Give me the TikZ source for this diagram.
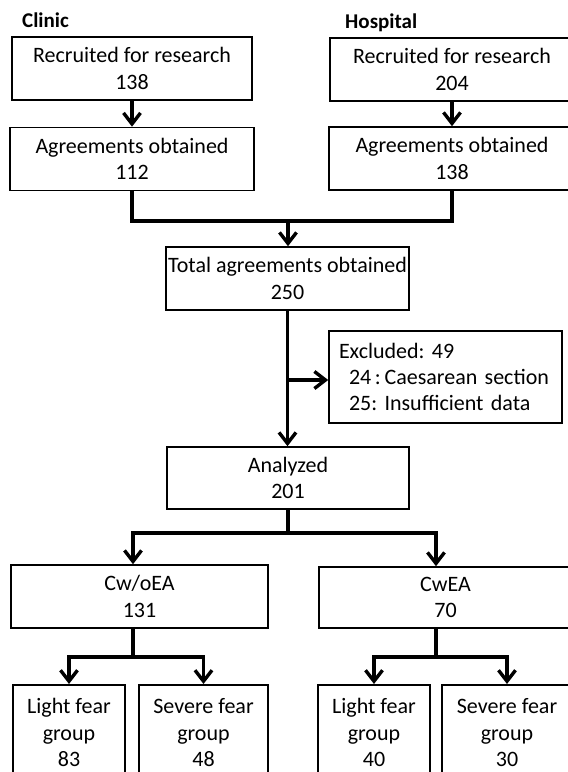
\documentclass[tikz,border=0pt]{standalone}
\usepackage{fontspec}
\setmainfont{Carlito}
\frenchspacing
\usetikzlibrary{arrows.meta}
\tikzset{
    %Define standard arrow tip
    >={Straight Barb[length=11pt,width=17pt]},
    %Define style for boxes
    boks/.style={
           rectangle,
           draw=black,
           line width=1.6pt,
           inner sep=0pt,
           align=center,
           minimum height=63pt,
           font=\fontsize{22}{26.4}\selectfont},
    % Define connector styles
    strek/.style={
           line width=3.4pt},
    pil/.style={
           ->,
           line width=3.4pt},
    % Define style for the site labels
    etikett/.style={
           anchor=base west,
           inner sep=0pt,
           font=\bfseries\fontsize{21}{25}\selectfont}
}

\begin{document}
\begin{tikzpicture}[x=1pt,y=-1pt]
  \clip (0,0) rectangle (568,772);
  % site labels
  \node[etikett] (clinic) at (22,27) {Clinic};
  \node[etikett] (hospital) at (345,28) {Hospital};
  % recruitment
  \node[boks,minimum width=240pt] (rec1) at (132,68.5) {Recruited for research\\138};
  \node[boks,minimum width=244pt] (agr1) at (132,159) {Agreements obtained\\112};
  \node[boks,minimum width=244pt] (rec2) at (452,69.5) {Recruited for research\\204};
  \node[boks,minimum width=246pt] (agr2) at (452,158.5) {Agreements obtained\\138};
  \node[boks,minimum width=243pt] (total) at (287.5,278.5) {Total agreements obtained\\250};
  \node[boks,minimum width=233pt,minimum height=92pt,text width=213pt,align=left] (excl) at (445.5,377)
    {Excluded: 49\\\hspace*{10pt}24\,:\,Caesarean section\\\hspace*{10pt}25: Insufficient data};
  \node[boks,minimum width=242pt,minimum height=62pt] (anal) at (288,478) {Analyzed\\201};
  % groups
  \node[boks,minimum width=257pt] (cwo) at (139.5,596.5) {Cw/oEA\\131};
  \node[boks,minimum width=253pt,minimum height=61pt] (cw) at (445.5,597.5) {CwEA\\70};
  \node[boks,anchor=north,minimum width=112pt,minimum height=96pt] (lf1) at (69,684) {Light fear\\group\\83};
  \node[boks,anchor=north,minimum width=129pt,minimum height=96pt] (sf1) at (203.5,684) {Severe fear\\group\\48};
  \node[boks,anchor=north,minimum width=112pt,minimum height=96pt] (lf2) at (374,684) {Light fear\\group\\40};
  \node[boks,anchor=north,minimum width=130pt,minimum height=96pt] (sf2) at (507,684) {Severe fear\\group\\30};
  % branch points
  \coordinate (j1) at (288,221);
  \coordinate (b1) at (288,533);
  \coordinate (b2) at (133,657);
  \coordinate (b3) at (436,657);
  % connectors
  \draw[pil] (rec1) -- (agr1);
  \draw[pil] (rec2) -- (agr2);
  \draw[strek] (agr1.south) |- (j1);
  \draw[strek] (agr2.south) |- (j1);
  \draw[pil] (j1) -- (j1 |- total.north);
  \draw[pil] (total.south) -- (total.south |- anal.north);
  \draw[pil] ([yshift=-3pt]excl.west -| total.south) -- ([yshift=-3pt]excl.west);
  \draw[strek] (anal.south) -- (b1);
  \draw[pil] (b1) -| (b2 |- cwo.north);
  \draw[pil] (b1) -| (b3 |- cw.north);
  \draw[strek] (b2 |- cwo.south) -- (b2);
  \draw[pil] (b2) -| (lf1.north);
  \draw[pil] (b2) -| (sf1.north);
  \draw[strek] (b3 |- cw.south) -- (b3);
  \draw[pil] (b3) -| (lf2.north);
  \draw[pil] (b3) -| (sf2.north);
\end{tikzpicture}
\end{document}
